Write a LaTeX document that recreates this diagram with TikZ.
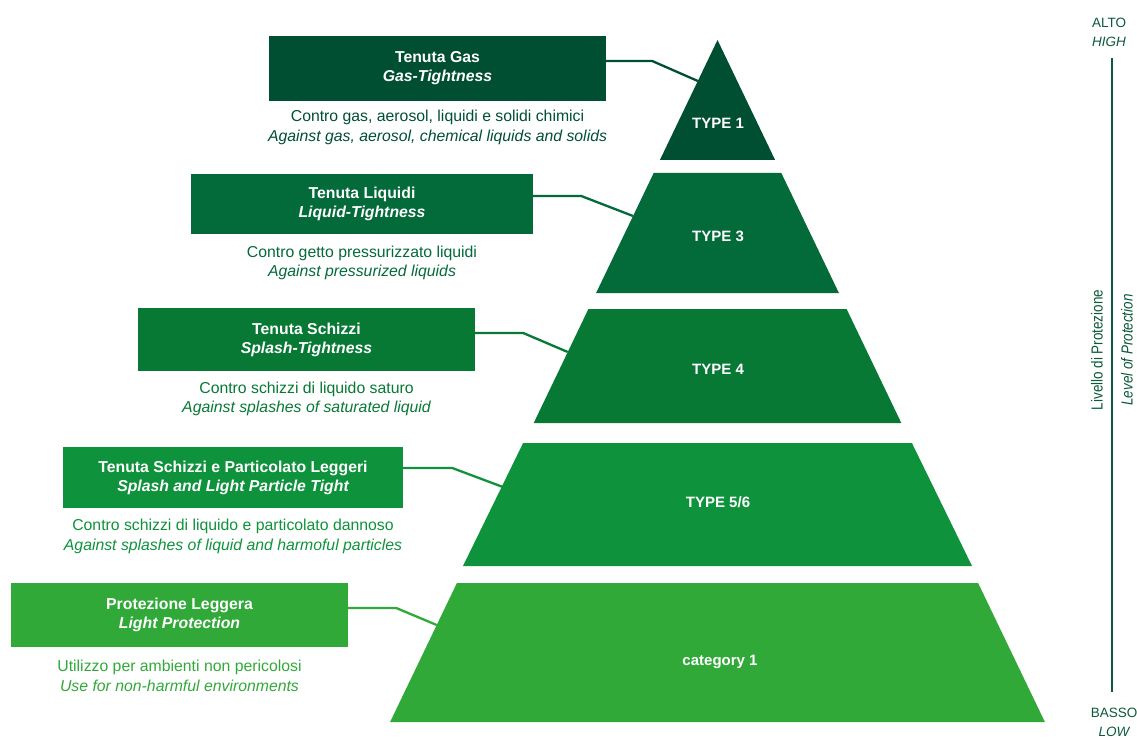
\documentclass[tikz,border=0pt]{standalone}
\usepackage{fontspec}
\setmainfont{Liberation Sans}
\newfontfamily\condfont[FakeStretch=0.84]{Liberation Sans}
\definecolor{cA}{HTML}{004F32}
\definecolor{cB}{HTML}{036A3A}
\definecolor{cC}{HTML}{077935}
\definecolor{cD}{HTML}{0E923B}
\definecolor{cE}{HTML}{31A939}
\definecolor{axc}{HTML}{0B5A3A}
\tikzset{
  titlebox/.style={fill=#1, text=white, inner sep=0pt, align=center,
    font=\fontsize{15.8}{19}\selectfont\bfseries},
  desc/.style={text=#1, align=center, inner sep=0pt,
    font=\fontsize{15.8}{19.5}\selectfont},
  tier/.style={text=white, font=\fontsize{15}{16}\selectfont\bfseries, inner sep=0pt},
  conn/.style={draw=#1, line width=2.3pt},
  axlab/.style={text=axc, align=center, inner sep=0pt, font=\fontsize{13.5}{19}\selectfont},
  axrot/.style={text=axc, inner sep=0pt, font=\condfont\fontsize{16}{19}\selectfont}
}
\begin{document}
\begin{tikzpicture}[x=1pt,y=-1pt]
\useasboundingbox (0,0) rectangle (1137,738);
% pyramid
\fill[cA] (717.5,40) -- (775.1,160) -- (659.9,160) -- cycle;
\fill[cB] (653.7,173) -- (781.3,173) -- (838.9,293) -- (596.1,293) -- cycle;
\fill[cC] (588.4,309) -- (846.6,309) -- (901.3,423) -- (533.7,423) -- cycle;
\fill[cD] (523.1,443) -- (911.9,443) -- (972,566) -- (463,566) -- cycle;
\fill[cE] (456.9,583) -- (978.1,583) -- (1044.9,722) -- (390.1,722) -- cycle;
\node[tier] (t1) at (718,123) {TYPE 1};
\node[tier] (t3) at (718,236) {TYPE 3};
\node[tier] (t4) at (718,369) {TYPE 4};
\node[tier] (t56) at (718,502) {TYPE 5/6};
\node[tier] (tc1) at (720,662) {category 1};
% edge points
\coordinate (e1) at (697.8,81);
\coordinate (e2) at (633,216);
\coordinate (e3) at (567.7,352);
\coordinate (e4) at (502.9,487);
\coordinate (e5) at (436.7,625);
% boxes
\node[titlebox=cA, minimum width=337pt, minimum height=65pt] (b1) at (437.5,68.5) {Tenuta Gas\\\itshape Gas-Tightness};
\node[titlebox=cB, minimum width=342pt, minimum height=60pt] (b2) at (362,204) {Tenuta Liquidi\\\itshape Liquid-Tightness};
\node[titlebox=cC, minimum width=337pt, minimum height=63pt] (b3) at (306.5,339.5) {Tenuta Schizzi\\\itshape Splash-Tightness};
\node[titlebox=cD, minimum width=340pt, minimum height=61pt] (b4) at (233,477.5) {Tenuta Schizzi e Particolato Leggeri\\\itshape Splash and Light Particle Tight};
\node[titlebox=cE, minimum width=337pt, minimum height=64pt] (b5) at (179.5,615) {Protezione Leggera\\\itshape Light Protection};
% descriptions
\node[desc=cA] (d1) at (437.5,127.5) {Contro gas, aerosol, liquidi e solidi chimici\\\itshape Against gas, aerosol, chemical liquids and solids};
\node[desc=cB] (d2) at (362,263) {Contro getto pressurizzato liquidi\\\itshape Against pressurized liquids};
\node[desc=cC] (d3) at (306.5,399) {Contro schizzi di liquido saturo\\\itshape Against splashes of saturated liquid};
\node[desc=cD] (d4) at (233,536.5) {Contro schizzi di liquido e particolato dannoso\\\itshape Against splashes of liquid and harmoful particles};
\node[desc=cE] (d5) at (179.5,676) {Utilizzo per ambienti non pericolosi\\\itshape Use for non-harmful environments};
% connectors
\draw[conn=cA] ([yshift=7.5pt]b1.east) -- ++(46,0) -- (e1);
\draw[conn=cB] ([yshift=8pt]b2.east) -- ++(48,0) -- (e2);
\draw[conn=cC] ([yshift=6.5pt]b3.east) -- ++(48,0) -- (e3);
\draw[conn=cD] ([yshift=9.5pt]b4.east) -- ++(49,0) -- (e4);
\draw[conn=cE] ([yshift=7pt]b5.east) -- ++(48,0) -- (e5);
% axis
\node[axlab] (hi) at (1109,32) {ALTO\\\itshape HIGH};
\node[axlab] (lo) at (1114,722) {BASSO\\\itshape LOW};
\coordinate (axtop) at (1112,58);
\coordinate (axbot) at (1112,692);
\draw[axc, line width=2pt] (axtop) -- (axbot);
\node[axrot, rotate=90] (lv1) at (1097,350) {Livello di Protezione};
\node[axrot, rotate=90] (lv2) at (1127,350) {\itshape Level of Protection};
\end{tikzpicture}
\end{document}
